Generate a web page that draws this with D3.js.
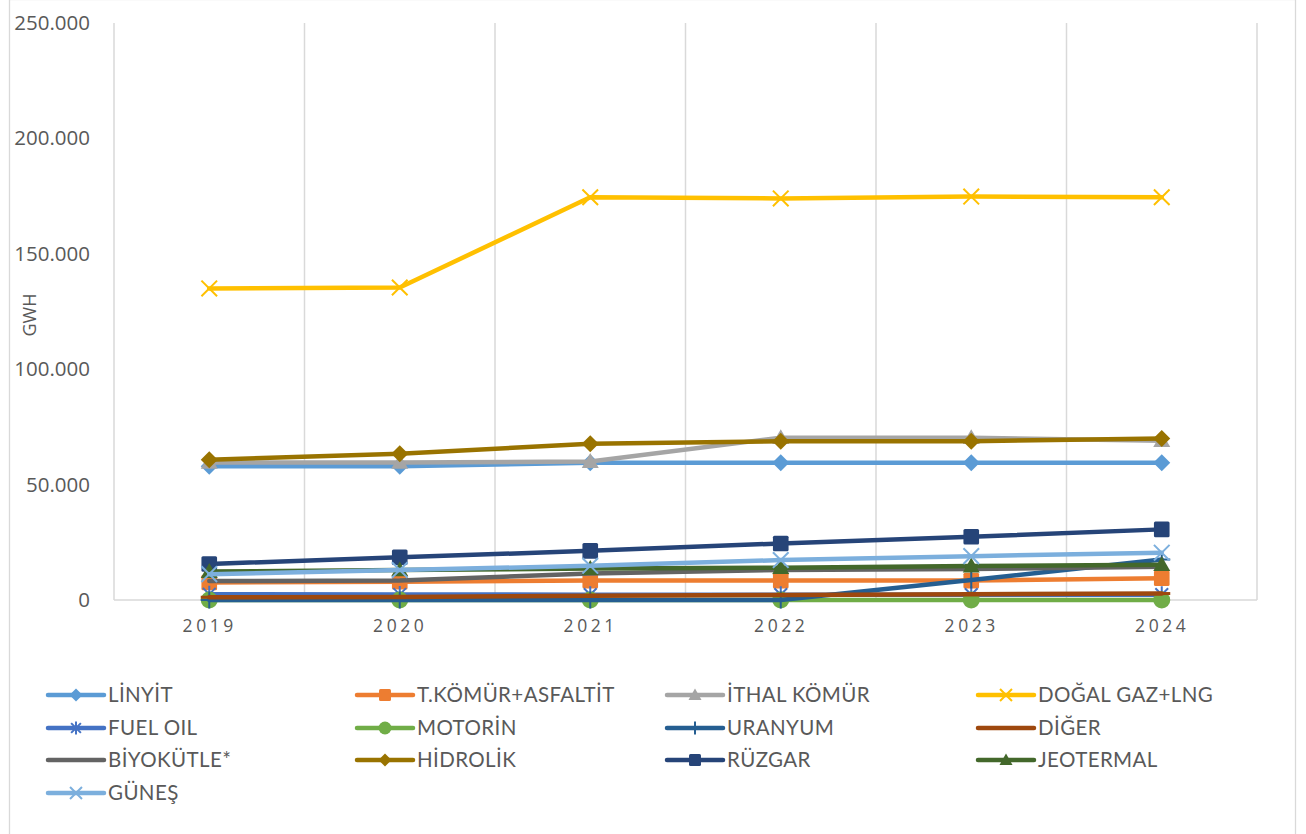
<!DOCTYPE html>
<html>
<head>
<meta charset="utf-8">
<script src="https://cdn.jsdelivr.net/npm/d3@7"></script>
<style>
  html, body { margin: 0; padding: 0; background: #fff; }
  svg { display: block; }
</style>
</head>
<body>
<svg id="chart" width="1306" height="834"></svg>
<script>
// Yearly electricity generation by source (GWh)
const years = ["2019", "2020", "2021", "2022", "2023", "2024"];
const yTicks = [0, 50000, 100000, 150000, 200000, 250000];

const linyit     = [58000, 58000, 59500, 59500, 59500, 59500];
const tKomur     = [7600, 7900, 8400, 8400, 8400, 9400];
const ithalKomur = [59600, 59600, 60000, 70300, 70300, 69000];
const dogalGaz   = [135000, 135400, 174500, 174000, 174800, 174500];
const fuelOil    = [2500, 2400, 2300, 2300, 2300, 2300];
const motorin    = [0, 0, 0, 0, 0, 0];
const uranyum    = [0, 0, 0, 0, 8700, 17500];
const diger      = [1200, 1300, 1800, 2200, 2500, 2800];
const biyokutle  = [8200, 8400, 11500, 13000, 13400, 14400];
const hidrolik   = [60800, 63400, 67700, 68800, 68800, 70000];
const ruzgar     = [15600, 18500, 21300, 24500, 27400, 30600];
const jeotermal  = [12300, 13000, 13600, 14000, 14700, 15300];
const gunes      = [11200, 13000, 14800, 17300, 19000, 20500];

const seriesNames = ["LİNYİT", "T.KÖMÜR+ASFALTİT", "İTHAL KÖMÜR", "DOĞAL GAZ+LNG",
  "FUEL OIL", "MOTORİN", "URANYUM", "DİĞER", "BİYOKÜTLE*", "HİDROLİK",
  "RÜZGAR", "JEOTERMAL", "GÜNEŞ"];
const seriesValues = [linyit, tKomur, ithalKomur, dogalGaz, fuelOil, motorin,
  uranyum, diger, biyokutle, hidrolik, ruzgar, jeotermal, gunes];
const seriesColors = ["#5B9BD5", "#ED7D31", "#A5A5A5", "#FFC000", "#4472C4", "#70AD47",
  "#255E91", "#9E480E", "#636363", "#997300", "#264478", "#43682B", "#7CAFDD"];
const seriesMarkers = ["diamond", "square", "triangle", "x", "star", "circle",
  "plus", "dash", "none", "diamond", "square", "triangle", "x"];

const series = seriesNames.map((name, i) => ({
  name, values: seriesValues[i], color: seriesColors[i], marker: seriesMarkers[i]
}));

const svg = d3.select("#chart");
const textColor = "#595959";
const gridColor = "#D9D9D9";

// Chart frame
svg.append("rect")
  .attr("x", 9.5).attr("y", -0.5).attr("width", 1286).attr("height", 860)
  .attr("fill", "none").attr("stroke", gridColor).attr("stroke-width", 1.3);

const plot = { left: 114, right: 1257, top: 23, bottom: 600 };

const x = d3.scalePoint().domain(years).range([plot.left, plot.right]).padding(0.5);
const y = d3.scaleLinear().domain([0, 250000]).range([plot.bottom, plot.top]);
const step = x.step();

// Vertical gridlines at category boundaries
const gridXs = d3.range(years.length + 1).map(i => plot.left + i * step);
svg.append("g").selectAll("line").data(gridXs).join("line")
  .attr("x1", d => d).attr("x2", d => d)
  .attr("y1", plot.top).attr("y2", plot.bottom)
  .attr("stroke", gridColor).attr("stroke-width", 1.5);

// Horizontal category axis line
svg.append("line")
  .attr("x1", plot.left).attr("x2", plot.right)
  .attr("y1", y(0)).attr("y2", y(0))
  .attr("stroke", gridColor).attr("stroke-width", 1.5);

// Y axis labels
const loc = d3.formatLocale({ decimal: ",", thousands: ".", grouping: [3], currency: ["", ""] });
const fmt = loc.format(",d");
const yAxis = svg.append("g")
  .attr("transform", `translate(90,0)`)
  .call(d3.axisLeft(y).tickValues(yTicks).tickSize(0).tickPadding(0).tickFormat(fmt));
yAxis.select(".domain").remove();
yAxis.selectAll("text")
  .attr("fill", textColor)
  .style("font-family", "'Open Sans', sans-serif")
  .style("font-size", "20.5px");

// X axis labels
const xAxis = svg.append("g")
  .attr("transform", `translate(0,${plot.bottom})`)
  .call(d3.axisBottom(x).tickSize(0).tickPadding(20));
xAxis.select(".domain").remove();
xAxis.selectAll("text")
  .attr("fill", textColor)
  .style("font-family", "'Open Sans', sans-serif")
  .style("font-size", "17.5px")
  .style("letter-spacing", "3.6px");

// Axis title
svg.append("text")
  .attr("transform", "translate(36,315) rotate(-90)")
  .attr("text-anchor", "middle")
  .attr("fill", textColor)
  .style("font-family", "'Open Sans', sans-serif")
  .style("font-size", "18px")
  .text("GWH");

// Marker drawing
function drawMarker(g, type, color, size) {
  const h = size / 2;
  if (type === "diamond") {
    g.append("path").attr("d", `M0,${-h}L${h},0L0,${h}L${-h},0Z`).attr("fill", color);
  } else if (type === "square") {
    g.append("rect").attr("x", -h * 0.92).attr("y", -h * 0.92)
      .attr("width", size * 0.92).attr("height", size * 0.92).attr("rx", 1.5).attr("fill", color);
  } else if (type === "triangle") {
    g.append("path").attr("d", `M0,${-h}L${h},${h * 0.75}L${-h},${h * 0.75}Z`).attr("fill", color);
  } else if (type === "circle") {
    g.append("circle").attr("r", h).attr("fill", color);
  } else if (type === "x") {
    const k = h * 0.92;
    g.append("path").attr("d", `M${-k},${-k}L${k},${k}M${-k},${k}L${k},${-k}`)
      .attr("stroke", color).attr("stroke-width", 2);
  } else if (type === "star") {
    const k = h * 0.75;
    g.append("path").attr("d", `M${-k},${-k}L${k},${k}M${-k},${k}L${k},${-k}M0,${-h}L0,${h}`)
      .attr("stroke", color).attr("stroke-width", 2);
  } else if (type === "plus") {
    g.append("path").attr("d", `M0,${-h}L0,${h}M${-h},0L${h},0`)
      .attr("stroke", color).attr("stroke-width", 2);
  } else if (type === "dash") {
    g.append("path").attr("d", `M${-h},0L${h},0`)
      .attr("stroke", color).attr("stroke-width", 3);
  }
}

// Series lines and markers
const line = d3.line().x((d, i) => x(years[i])).y(d => y(d));
const seriesG = svg.append("g");
series.forEach(s => {
  const g = seriesG.append("g");
  g.append("path")
    .attr("d", line(s.values))
    .attr("fill", "none")
    .attr("stroke", s.color)
    .attr("stroke-width", 4.5)
    .attr("stroke-linejoin", "round")
    .attr("stroke-linecap", "round");
  s.values.forEach((v, i) => {
    const m = g.append("g").attr("transform", `translate(${x(years[i])},${y(v)})`);
    drawMarker(m, s.marker, s.color, 17);
  });
});

// Legend
const legendCols = [48, 357, 667, 978];
const legendRows = [695, 728, 760, 793];
const legend = svg.append("g");
series.forEach((s, i) => {
  const lx = legendCols[i % 4];
  const ly = legendRows[Math.floor(i / 4)];
  const g = legend.append("g").attr("transform", `translate(${lx},${ly})`);
  g.append("line").attr("x1", 0).attr("x2", 56).attr("y1", 0).attr("y2", 0)
    .attr("stroke", s.color).attr("stroke-width", 4.5).attr("stroke-linecap", "round");
  const m = g.append("g").attr("transform", "translate(28,0)");
  drawMarker(m, s.marker, s.color, 13);
  g.append("text")
    .attr("x", 60).attr("y", 0).attr("dy", "0.35em")
    .attr("fill", textColor)
    .style("font-family", "Lato, sans-serif")
    .style("font-size", "20.5px")
    .style("letter-spacing", "0.4px")
    .text(s.name);
});
</script>
</body>
</html>
